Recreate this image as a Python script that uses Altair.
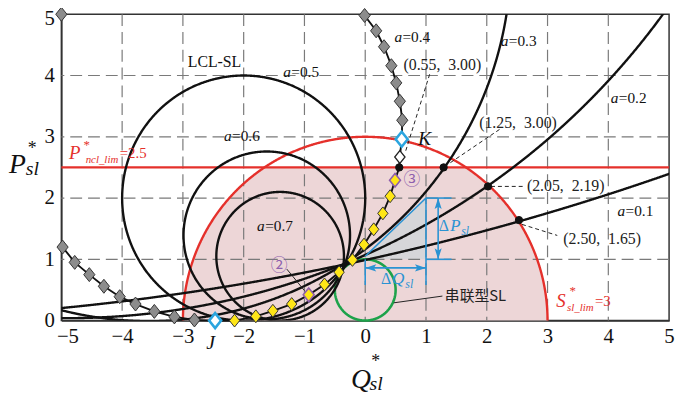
import numpy as np
import pandas as pd
import altair as alt

SERIF = "Liberation Serif"
CJK = "Noto Sans CJK SC"
RED = "#E5302B"
BLUE = "#2A93D3"
GREEN = "#1DA24A"
PURPLE = "#8E5FAE"
INK = "#111111"

# ---------------- axes ----------------
x_ticks = [-5, -4, -3, -2, -1, 0, 1, 2, 3, 4, 5]
y_ticks = [0, 1, 2, 3, 4, 5]
grid_q = [-4, -3, -2, -1, 0, 1, 2, 3, 4]
grid_p = [1, 2, 3, 4]

# ---------------- LCL-SL circles (a, centre Q, centre P, radius) ----------------
lcl_a = [0.1, 0.2, 0.3, 0.5, 0.6, 0.7]
lcl_cq = [-9.2, -4.9, -3.55, -2.0, -1.62, -1.40]
lcl_cp = [43.3, 12.2, 5.94, 2.0, 1.39, 1.05]
lcl_r = [43.3, 12.16, 5.95, 2.0, 1.37, 1.05]

# series SL circle, limits
series_cq, series_cp, series_r = 0.0, 0.5, 0.5
S_lim = 3.0
P_lim = 2.5

# ---------------- a = 0.4 operating points ----------------
gray_lo_q = [-4.98, -4.78, -4.54, -4.30, -4.04, -3.78, -3.47, -3.14, -2.81]
gray_lo_p = [1.20, 0.95, 0.75, 0.56, 0.39, 0.27, 0.15, 0.06, 0.01]
J_q, J_p = [-2.47], [0.0]
yel_q = [-2.15, -1.80, -1.52, -1.21, -0.93, -0.67, -0.43, -0.21, -0.02, 0.14, 0.29, 0.41, 0.49]
yel_p = [0.0, 0.07, 0.16, 0.27, 0.42, 0.59, 0.79, 0.99, 1.24, 1.49, 1.75, 2.03, 2.29]
mark2_q, mark2_p = [-0.93, 0.49], [0.42, 2.29]
white_q, white_p = [0.57], [2.67]
K_q, K_p = [0.60], [2.96]
gray_up_q = [0.61, 0.57, 0.51, 0.43, 0.31, 0.18, -0.01]
gray_up_p = [3.27, 3.58, 3.88, 4.16, 4.47, 4.73, 4.98]
corner_q, corner_p = [-5.0], [5.0]

# intersection dots
dot_q = [0.56, 1.29, 2.02, 2.53]
dot_p = [2.50, 2.50, 2.19, 1.64]

# coordinate labels
coord_text = ["(0.55,\u00a0\u00a03.00)", "(1.25,\u00a0\u00a03.00)",
              "(2.05,\u00a0\u00a02.19)", "(2.50,\u00a0\u00a01.65)"]
coord_q = [0.63, 1.875, 2.66, 3.26]
coord_p = [4.17, 3.23, 2.20, 1.33]

lead_dash_q1 = [1.06, 2.21, 2.07, 2.58]
lead_dash_p1 = [4.02, 3.12, 2.19, 1.57]
lead_dash_q2 = [0.66, 1.36, 2.62, 3.16]
lead_dash_p2 = [2.75, 2.55, 2.19, 1.39]

lead_solid_q1 = [1.27, -1.29]
lead_solid_p1 = [0.40, 0.84]
lead_solid_q2 = [0.47, -1.00]
lead_solid_p2 = [0.29, 0.49]

# a labels
a_lab = [0.5, 0.6, 0.7, 0.4, 0.3, 0.2, 0.1]
a_lab_q = [-1.35, -2.325, -1.78, 0.48, 2.23, 4.04, 4.15]
a_lab_p = [4.05, 3.01, 1.535, 4.63, 4.56, 3.63, 1.79]

# increment triangle / dimension lines
tri_q = [0.0, 1.0]
tri_top = [1.05, 2.0]
tri_bot = [1.0, 1.0]
blue_q1 = [0.0, 1.0, 0.0, 1.0, 1.0, 0.0, 1.2]
blue_p1 = [1.05, 2.0, 1.0, 2.0, 1.0, 0.86, 1.0]
blue_q2 = [1.0, 1.0, 0.0, 1.42, 1.42, 1.0, 1.2]
blue_p2 = [2.0, 0.58, 0.58, 2.0, 1.0, 0.86, 2.0]
arrow_q = [0.0, 1.0, 1.2, 1.2]
arrow_p = [0.86, 0.86, 2.0, 1.0]
arrow_ang = [180, 0, 270, 90]

DIAMOND = "M0,-1L0.8,0L0,1L-0.8,0Z"
ARROW = "M0,0L-1,-0.32L-0.78,0L-1,0.32Z"

# ---------------- scales / axes ----------------
xs = alt.Scale(domain=[-5, 5], nice=False, zero=False)
ys = alt.Scale(domain=[0, 5], nice=False, zero=False)
x_axis = alt.Axis(values=x_ticks, title=None, labelFont=SERIF, labelFontSize=21,
                  labelColor=INK, ticks=False, grid=False, domainColor="#333",
                  domainWidth=1.5, labelPadding=5, labelFlush=True, labelFlushOffset=5)
y_axis = alt.Axis(values=y_ticks, title=None, labelFont=SERIF, labelFontSize=21,
                  labelColor=INK, ticks=False, grid=False, domainColor="#333",
                  domainWidth=1.5, labelPadding=7,
                  labelOffset={"condition": {"test": "datum.value == 5", "value": 4}, "value": 0})
X = alt.X("q:Q", scale=xs, axis=x_axis)
Y = alt.Y("p:Q", scale=ys, axis=y_axis)


def circle_df(cq, cp, r, name, step=0.01, box=True, start=np.pi / 2, span=2 * np.pi):
    n = max(400, int(span * r / step))
    th = start + np.linspace(0, span, n)
    q = cq + r * np.cos(th)
    p = cp + r * np.sin(th)
    if box:
        m = (q > -5.4) & (q < 5.4) & (p > -0.4) & (p < 5.4)
        q, p = q[m], p[m]
    return pd.DataFrame({"id": name, "i": np.arange(len(q)), "q": np.round(q, 4), "p": np.round(p, 4)})


layers = []

# pink admissible region: inside S_lim and below P_lim
th = np.linspace(np.pi, 0, 400)
pink = pd.DataFrame({"q": S_lim * np.cos(th),
                     "p": np.minimum(S_lim * np.sin(th), P_lim), "p0": 0.0})
layers.append(alt.Chart(pink).mark_area(color="#EDD6D7", opacity=1).encode(
    x=X, y=Y, y2=alt.Y2("p0")))

# grey increment triangle
tri = pd.DataFrame({"q": tri_q, "p": tri_top, "p0": tri_bot})
layers.append(alt.Chart(tri).mark_area(color="#D6D6D9", opacity=1).encode(
    x=X, y=Y, y2=alt.Y2("p0")))

# grid
layers.append(alt.Chart(pd.DataFrame({"q": grid_q})).mark_rule(
    color="#7a7a7a", strokeWidth=1.2, strokeDash=[12, 6]).encode(x=X))
layers.append(alt.Chart(pd.DataFrame({"p": grid_p})).mark_rule(
    color="#7a7a7a", strokeWidth=1.2, strokeDash=[12, 6]).encode(y=Y))

# red limit circle and line
red_c = circle_df(0, 0, S_lim, "S", box=False, start=0, span=np.pi)
layers.append(alt.Chart(red_c).mark_line(color=RED, strokeWidth=2.4).encode(
    x=X, y=Y, order="i:Q"))
layers.append(alt.Chart(pd.DataFrame({"p": [P_lim]})).mark_rule(
    color=RED, strokeWidth=2.2).encode(y=Y))

# green series SL circle
green = circle_df(series_cq, series_cp, series_r, "ser", box=False, step=0.005)
layers.append(alt.Chart(green).mark_line(color=GREEN, strokeWidth=2.6).encode(
    x=X, y=Y, order="i:Q"))

# LCL-SL circles
lcl = pd.concat([circle_df(cq, cp, r, str(a)) for a, cq, cp, r in zip(lcl_a, lcl_cq, lcl_cp, lcl_r)])
layers.append(alt.Chart(lcl).mark_line(color=INK, strokeWidth=2.4, clip=True).encode(
    x=X, y=Y, detail="id:N", order="i:Q"))

# a = 0.4 trajectory through the operating points
tq = gray_lo_q + J_q + yel_q + dot_q[:1] + white_q + K_q + gray_up_q
tp = gray_lo_p + J_p + yel_p + dot_p[:1] + white_p + K_p + gray_up_p
traj = pd.DataFrame({"q": tq, "p": tp, "i": range(len(tq))})
layers.append(alt.Chart(traj).mark_line(color=INK, strokeWidth=1.9).encode(
    x=X, y=Y, order="i:Q"))

# blue dimension lines
blue = pd.DataFrame({"q": blue_q1, "p": blue_p1, "q2": blue_q2, "p2": blue_p2})
layers.append(alt.Chart(blue).mark_rule(color=BLUE, strokeWidth=1.6).encode(
    x=X, y=Y, x2=alt.X2("q2"), y2=alt.Y2("p2")))
arr = pd.DataFrame({"q": arrow_q, "p": arrow_p, "ang": arrow_ang})
layers.append(alt.Chart(arr).mark_point(shape=ARROW, filled=True, size=500, opacity=1,
                                        color=BLUE).encode(
    x=X, y=Y, angle=alt.Angle("ang:Q", scale=None)))

# leader lines
ld = pd.DataFrame({"q": lead_dash_q1, "p": lead_dash_p1, "q2": lead_dash_q2, "p2": lead_dash_p2})
layers.append(alt.Chart(ld).mark_rule(color="#222", strokeWidth=1, strokeDash=[4, 3]).encode(
    x=X, y=Y, x2=alt.X2("q2"), y2=alt.Y2("p2")))
ls = pd.DataFrame({"q": lead_solid_q1, "p": lead_solid_p1, "q2": lead_solid_q2, "p2": lead_solid_p2})
layers.append(alt.Chart(ls).mark_rule(color="#222", strokeWidth=1).encode(
    x=X, y=Y, x2=alt.X2("q2"), y2=alt.Y2("p2")))


def pts(q, p, fill, stroke, size, sw=1.0, shape=DIAMOND):
    df = pd.DataFrame({"q": q, "p": p})
    return alt.Chart(df).mark_point(shape=shape, filled=True, fill=fill, stroke=stroke,
                                    strokeWidth=sw, size=size, opacity=1).encode(x=X, y=Y)


layers.append(pts(gray_lo_q + gray_up_q + corner_q, gray_lo_p + gray_up_p + corner_p,
                  "#8C8C8C", "#333", 200))
layers.append(pts(yel_q, yel_p, "#FFE617", "#333", 170))
layers.append(pts(mark2_q, mark2_p, "#FFE617", PURPLE, 190, sw=1.6))
layers.append(pts(white_q, white_p, "#ffffff", "#222", 170, sw=1.3))
layers.append(pts(K_q + J_q, K_p + J_p, "#ffffff", "#2BA5DF", 230, sw=2.6))
layers.append(pts(dot_q, dot_p, INK, INK, 55, shape="circle"))


def txt(q, p, t, size, color=INK, italic=False, align="left", baseline="middle",
        dx=0, font=SERIF):
    df = pd.DataFrame({"q": q, "p": p, "t": t})
    return alt.Chart(df).mark_text(font=font, fontSize=size,
                                   fontStyle="italic" if italic else "normal",
                                   color=color, align=align, baseline=baseline,
                                   dx=dx).encode(x=X, y=Y, text="t:N")


# a labels
layers.append(txt(a_lab_q, a_lab_p, ["a"] * len(a_lab), 15.5, italic=True))
layers.append(txt(a_lab_q, a_lab_p, ["=" + str(a) for a in a_lab], 15.5, dx=8.2))
layers.append(txt([-2.48], [4.22], ["LCL-SL"], 16, align="center"))
layers.append(txt(coord_q, coord_p, coord_text, 16, color="#222"))
layers.append(txt([1.31], [0.40], ["串联型SL"], 15, color="#222", font=CJK))
layers.append(txt([0.87], [2.96], ["K"], 20, italic=True))
layers.append(txt([-2.545], [-0.37], ["J"], 20, italic=True, align="center"))
layers.append(txt([-1.415, 0.767], [0.89, 2.29], ["②", "③"], 17, color=PURPLE,
                  align="center", font=CJK))

# red limit labels
layers.append(txt([-4.873], [2.73], ["P"], 19, color=RED, italic=True))
layers.append(txt([-4.635], [2.86], ["*"], 13, color=RED))
layers.append(txt([-4.60], [2.62], ["ncl_lim"], 11, color=RED, italic=True))
layers.append(txt([-4.04], [2.73], ["=2.5"], 15, color=RED))
layers.append(txt([3.144], [0.315], ["S"], 19, color=RED, italic=True))
layers.append(txt([3.36], [0.49], ["*"], 13, color=RED))
layers.append(txt([3.32], [0.21], ["sl_lim"], 11, color=RED, italic=True))
layers.append(txt([3.78], [0.32], ["=3"], 15, color=RED))

# delta labels
layers.append(txt([1.21, 0.26], [1.55, 0.677], ["Δ", "Δ"], 16, color=BLUE))
layers.append(txt([1.40, 0.445], [1.55, 0.677], ["P", "Q"], 17, color=BLUE, italic=True))
layers.append(txt([1.58, 0.66], [1.46, 0.60], ["sl", "sl"], 12, color=BLUE, italic=True))

# axis titles
layers.append(txt([-5.862], [2.53], ["P"], 28, italic=True))
layers.append(txt([-5.555], [2.80], ["*"], 18))
layers.append(txt([-5.585], [2.37], ["sl"], 20, italic=True, baseline="alphabetic"))
layers.append(txt([-0.236], [-1.10], ["Q"], 28, italic=True, baseline="alphabetic"))
layers.append(txt([0.10], [-0.68], ["*"], 18))
layers.append(txt([0.07], [-1.13], ["sl"], 20, italic=True, baseline="alphabetic"))

chart = alt.layer(*layers).properties(
    width=615, height=310,
    autosize=alt.AutoSizeParams(type="none"),
    padding={"left": 54, "top": 4, "right": 7, "bottom": 75},
    background="white",
).configure_view(stroke="#333", strokeWidth=1.5)

chart.save("out.html", embed_options={"renderer": "svg", "actions": False})
